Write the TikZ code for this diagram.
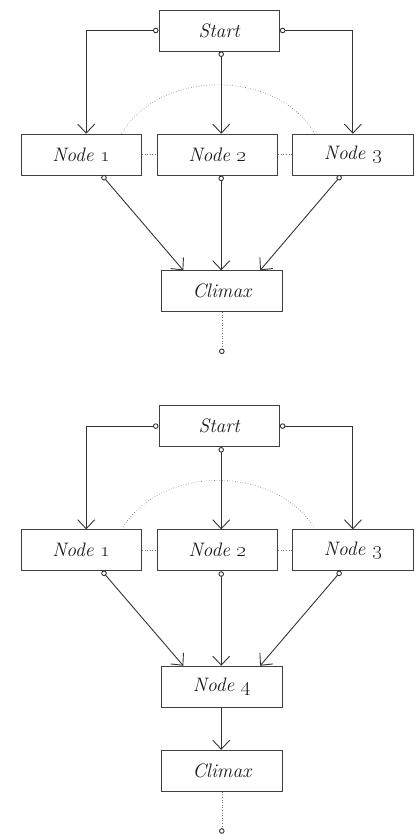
\documentclass[tikz,border=0pt]{standalone}
\usetikzlibrary{arrows.meta}
\begin{document}
\begin{tikzpicture}[x=1pt,y=-1pt,
  box/.style={draw=black!75, line width=0.9pt, minimum width=120.5pt, minimum height=41pt,
    inner sep=0pt, font=\fontsize{19.5}{21}\selectfont\itshape, text=black!90},
  conn/.style={draw=black!80, line width=0.9pt, -{Straight Barb[length=9pt,width=17pt]}},
  oconn/.style={draw=black!80, line width=0.9pt,
    {Circle[open,length=5.5pt,width=5.5pt]}-{Straight Barb[length=9pt,width=17pt]}},
  dotl/.style={draw=black!55, dotted, line width=0.6pt},
  endc/.style={dotl, -{Circle[open,length=5.5pt,width=5.5pt,color=black!80,line width=0.9pt]}}]
\useasboundingbox (0,0) rectangle (417,834);

% ---------- first diagram ----------
\node[box] (s1) at (219.2,30.5) {Start};
\node[box] (a1) at (81.2,154.7) {Node \oldstylenums{1}};
\node[box] (b1) at (217.5,154.7) {Node \oldstylenums{2}};
\node[box] (c1) at (352.9,154.7) {Node \oldstylenums{3}};
\node[box] (m1) at (221.8,291.3) {Climax};
\path (m1.south) ++(0,41.8) coordinate (e1);

\draw[oconn] (s1.west) -| ([xshift=5pt]a1.north);
\draw[oconn] (s1.east) -| (c1.north);
\draw[oconn] ([xshift=2pt]s1.south) -- ([xshift=3.7pt]b1.north);
\draw[oconn] ([xshift=21pt]a1.south) -- ([xshift=-38.5pt]m1.north);
\draw[oconn] ([xshift=3.7pt]b1.south) -- ([xshift=-0.6pt]m1.north);
\draw[oconn] ([xshift=-12pt]c1.south) -- ([xshift=38.3pt]m1.north);
\draw[dotl] (a1.east) -- (b1.west);
\draw[dotl] (b1.east) -- (c1.west);
\draw[dotl] ([xshift=40.5pt]a1.north) to[out=60,in=120] ([xshift=-38pt]c1.north);
\draw[endc] (m1.south) -- (e1);

% ---------- second diagram ----------
\begin{scope}[shift={(0,395.6)}]
\node[box] (s2) at (219.2,30.5) {Start};
\node[box] (a2) at (81.2,154.7) {Node \oldstylenums{1}};
\node[box] (b2) at (217.5,154.7) {Node \oldstylenums{2}};
\node[box] (c2) at (352.9,154.7) {Node \oldstylenums{3}};
\node[box] (d2) at (221.8,291.1) {Node \oldstylenums{4}};
\node[box] (m2) at (221.8,375.2) {Climax};
\path (m2.south) ++(0,42) coordinate (e2);

\draw[oconn] (s2.west) -| ([xshift=5pt]a2.north);
\draw[oconn] (s2.east) -| (c2.north);
\draw[oconn] ([xshift=2pt]s2.south) -- ([xshift=3.7pt]b2.north);
\draw[oconn] ([xshift=21pt]a2.south) -- ([xshift=-38.5pt]d2.north);
\draw[oconn] ([xshift=3.7pt]b2.south) -- ([xshift=-0.6pt]d2.north);
\draw[oconn] ([xshift=-12pt]c2.south) -- ([xshift=38.3pt]d2.north);
\draw[conn] ([xshift=-0.6pt]d2.south) -- ([xshift=-0.6pt]m2.north);
\draw[dotl] (a2.east) -- (b2.west);
\draw[dotl] (b2.east) -- (c2.west);
\draw[dotl] ([xshift=40.5pt]a2.north) to[out=60,in=120] ([xshift=-38pt]c2.north);
\draw[endc] (m2.south) -- (e2);
\end{scope}
\end{tikzpicture}
\end{document}
